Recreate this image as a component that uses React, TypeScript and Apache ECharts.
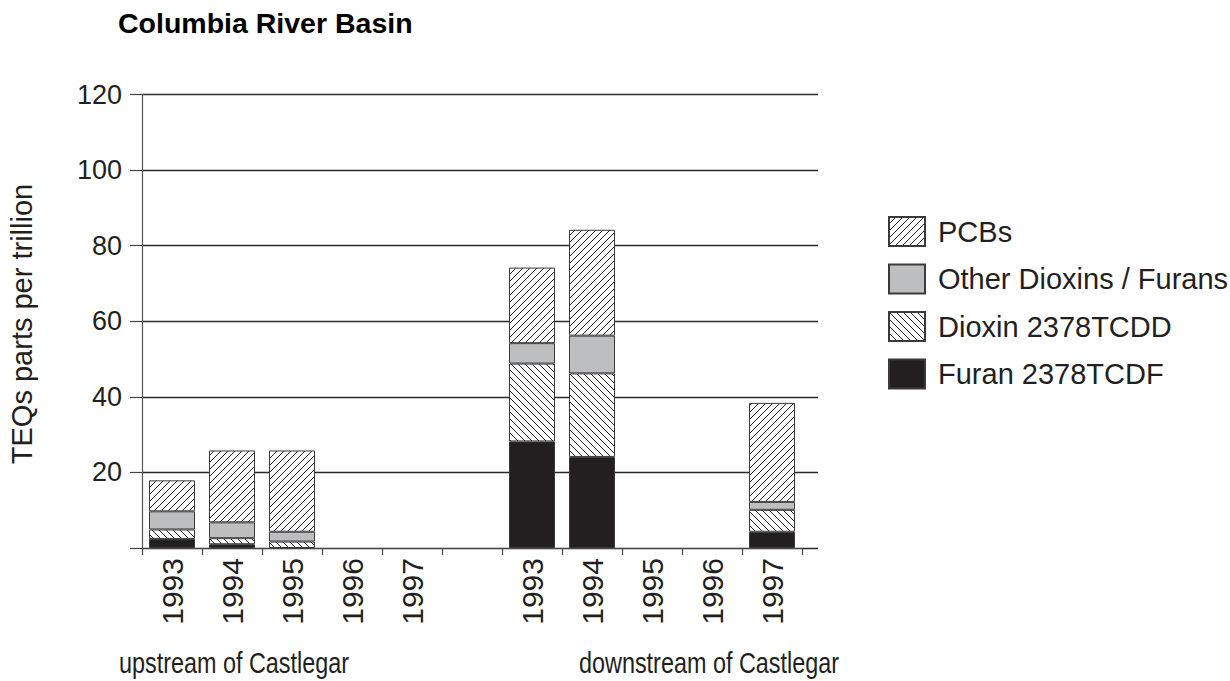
import React, { useEffect, useRef } from 'react';
import * as echarts from 'echarts';

const categories = ['1993', '1994', '1995', '1996', '1997', '', '1993', '1994', '1995', '1996', '1997'];
const furan = [2.4, 1.0, '-', '-', '-', '-', 28.2, 24.1, '-', '-', 4.3];
const dioxin = [2.5, 1.6, 1.7, '-', '-', '-', 20.6, 22.1, '-', '-', 5.8];
const otherDF = [4.8, 4.2, 2.6, '-', '-', '-', 5.4, 10.0, '-', '-', 2.1];
const pcbs = [8.2, 19.0, 21.5, '-', '-', '-', 20.0, 28.0, '-', '-', 26.2];
const yTicks = [0, 20, 40, 60, 80, 100, 120];
const legendNames = ['PCBs', 'Other Dioxins / Furans', 'Dioxin 2378TCDD', 'Furan 2378TCDF'];
const groupLabels = ['upstream of Castlegar', 'downstream of Castlegar'];
const titleText = 'Columbia River Basin';
const yTitle = 'TEQs parts per trillion';

const FONT = '"Liberation Sans", Arial, Helvetica, sans-serif';
const INK = '#231f20';

function hatch(dir: number): string {
  const s = 7;
  const c = document.createElement('canvas');
  c.width = s;
  c.height = s;
  const g = c.getContext('2d')!;
  g.fillStyle = '#ffffff';
  g.fillRect(0, 0, s, s);
  g.strokeStyle = INK;
  g.lineWidth = 1;
  g.beginPath();
  for (const o of [-s, 0, s]) {
    if (dir > 0) {
      g.moveTo(o, s);
      g.lineTo(o + s, 0);
    } else {
      g.moveTo(o, 0);
      g.lineTo(o + s, s);
    }
  }
  g.stroke();
  return c.toDataURL();
}

export default function App() {
  const ref = useRef<HTMLDivElement>(null);
  useEffect(() => {
    if (!ref.current) return;
    const chart = echarts.init(ref.current, undefined, { renderer: 'svg' });
    const fwd = { image: hatch(1), repeat: 'repeat', imageWidth: 7, imageHeight: 7 } as any;
    const back = { image: hatch(-1), repeat: 'repeat', imageWidth: 7, imageHeight: 7 } as any;
    const border = { borderColor: '#3a3a3a', borderWidth: 1 };
    const barCommon = { type: 'bar', stack: 'total', barWidth: 46, xAxisIndex: 0, yAxisIndex: 0 };
    const gridTop = 94.5;
    const gridBottom = 681 - 548;
    chart.setOption({
      animation: false,
      backgroundColor: '#ffffff',
      textStyle: { fontFamily: FONT },
      grid: [
        { left: 142, right: 1230 - 802, top: gridTop, bottom: gridBottom, containLabel: false },
        { left: 142, right: 1230 - 818, top: gridTop, bottom: gridBottom, containLabel: false },
      ],
      legend: {
        orient: 'vertical',
        left: 883,
        top: 211,
        itemWidth: 36,
        itemHeight: 29,
        itemGap: 16.5,
        icon: 'rect',
        data: legendNames,
        textStyle: { fontSize: 29, color: INK, fontFamily: FONT, padding: [0, 0, 0, 8] },
      },
      xAxis: [
        {
          type: 'category',
          gridIndex: 0,
          data: categories,
          boundaryGap: true,
          axisLine: { show: true, lineStyle: { color: '#444', width: 1.2 } },
          axisTick: { show: true, length: 7, interval: 0, lineStyle: { color: '#444', width: 1.2 } },
          axisLabel: { rotate: 90, interval: 0, fontSize: 30, color: INK, margin: 10, fontFamily: FONT },
          splitLine: { show: false },
        },
        { type: 'value', gridIndex: 1, show: false, min: 0, max: 1 },
      ],
      yAxis: [
        {
          type: 'value',
          gridIndex: 0,
          min: yTicks[0],
          max: yTicks[yTicks.length - 1],
          interval: 20,
          axisLine: { show: true, lineStyle: { color: '#555', width: 1.2 } },
          axisTick: { show: true, length: 12, lineStyle: { color: '#444', width: 1.2 } },
          axisLabel: {
            fontSize: 27,
            color: INK,
            margin: 20,
            fontFamily: FONT,
            formatter: (v: number) => (v === 0 ? '' : String(v)),
          },
          splitLine: { show: false },
        },
        {
          type: 'value',
          gridIndex: 1,
          min: yTicks[0],
          max: yTicks[yTicks.length - 1],
          interval: 20,
          axisLine: { show: false },
          axisTick: { show: false },
          axisLabel: { show: false },
          splitLine: { show: true, lineStyle: { color: '#2a2a2a', width: 1.3 } },
        },
      ],
      series: [
        { ...barCommon, name: legendNames[3], data: furan, itemStyle: { color: INK, ...border } },
        { ...barCommon, name: legendNames[2], data: dioxin, itemStyle: { color: back, ...border } },
        { ...barCommon, name: legendNames[1], data: otherDF, itemStyle: { color: '#bcbec0', ...border } },
        { ...barCommon, name: legendNames[0], data: pcbs, itemStyle: { color: fwd, ...border } },
      ],
      graphic: [
        {
          type: 'text',
          x: 118,
          y: 23,
          style: { text: titleText, font: `bold 28.5px ${FONT}`, fill: '#000', align: 'left', verticalAlign: 'middle' },
        },
        {
          type: 'text',
          x: 22,
          y: 324,
          rotation: Math.PI / 2,
          style: { text: yTitle, font: `29px ${FONT}`, fill: INK, align: 'center', verticalAlign: 'middle' },
        },
        {
          type: 'text',
          x: 234,
          y: 663,
          scaleX: 0.78,
          style: { text: groupLabels[0], font: `30px ${FONT}`, fill: INK, align: 'center', verticalAlign: 'middle' },
        },
        {
          type: 'text',
          x: 709,
          y: 663,
          scaleX: 0.78,
          style: { text: groupLabels[1], font: `30px ${FONT}`, fill: INK, align: 'center', verticalAlign: 'middle' },
        },
      ],
    });
    return () => chart.dispose();
  }, []);
  return <div ref={ref} style={{ position: 'absolute', left: 0, top: 0, width: 1230, height: 681 }} />;
}
